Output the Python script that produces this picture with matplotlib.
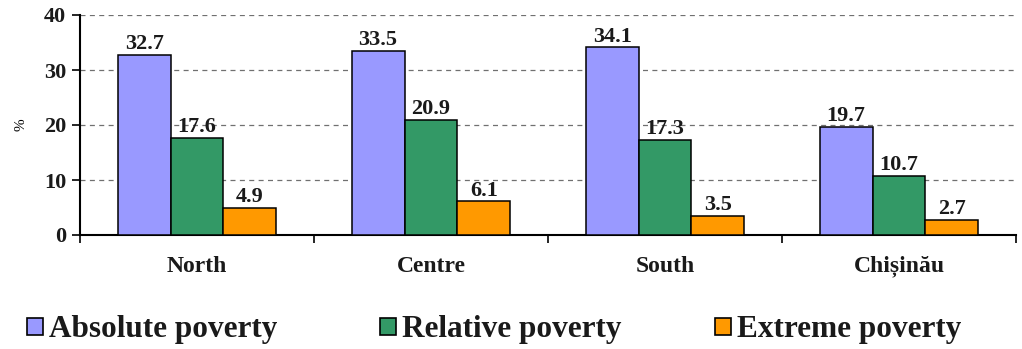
import matplotlib
matplotlib.use("Agg")
import matplotlib.pyplot as plt
import numpy as np
from matplotlib.patches import Patch

categories = ["North", "Centre", "South", "Chișinău"]
absolute = [32.7, 33.5, 34.1, 19.7]
relative = [17.6, 20.9, 17.3, 10.7]
extreme = [4.9, 6.1, 3.5, 2.7]
series_names = ["Absolute poverty", "Relative poverty", "Extreme poverty"]
colors = ["#9999FF", "#339966", "#FF9900"]

plt.rcParams['font.family'] = ['Liberation Serif', 'DejaVu Serif']
plt.rcParams['font.weight'] = 'bold'

W, H = 1022, 349
fig = plt.figure(figsize=(W / 100, H / 100), dpi=100)
ax = fig.add_axes([80 / W, 114 / H, 936 / W, 220 / H])

x = np.arange(len(categories))
w = 0.226
for i, (vals, c) in enumerate(zip([absolute, relative, extreme], colors)):
    bars = ax.bar(x + (i - 1) * w, vals, w, color=c, edgecolor='black', linewidth=1.1, zorder=3)
    for b, v in zip(bars, vals):
        ax.text(b.get_x() + b.get_width() / 2, v + 0.15, f"{v}", ha='center', va='bottom',
                fontsize=16, fontweight='bold', color='#1a1a1a', zorder=4)

ax.set_xlim(-0.5, len(categories) - 0.5)
ax.set_ylim(0, 40)
ax.set_yticks([0, 10, 20, 30, 40])
ax.set_yticklabels(["0", "10", "20", "30", "40"], fontsize=16, fontweight='bold', color='#1a1a1a')
ax.yaxis.grid(True, linestyle=(0, (4, 3.5)), color='#707070', linewidth=0.9, zorder=0)
ax.set_xticks(np.arange(len(categories) + 1) - 0.5)
ax.set_xticklabels([])
ax.set_xticks(x, minor=True)
ax.set_xticklabels(categories, minor=True, fontsize=17, fontweight='bold', color='#1a1a1a')
ax.tick_params(axis='x', which='minor', length=0, pad=15)
ax.tick_params(axis='x', which='major', length=6, width=1.2, direction='out')
ax.tick_params(axis='y', length=6, width=1.2, direction='out', pad=4)
for s in ['top', 'right']:
    ax.spines[s].set_visible(False)
for s in ['left', 'bottom']:
    ax.spines[s].set_linewidth(1.5)
ax.set_ylabel("%", fontsize=11, fontweight='normal', labelpad=12)

legend_x = [27, 380, 715]
for name, c, lx in zip(series_names, colors, legend_x):
    h = Patch(facecolor=c, edgecolor='black', linewidth=1.2)
    fig.legend([h], [name], loc='center left', bbox_to_anchor=(lx / W, 1 - 330 / H),
               frameon=False, prop={'size': 22.5, 'weight': 'bold'}, handlelength=0.5,
               handleheight=0.5, handletextpad=0.2, borderpad=0, borderaxespad=0,
               labelcolor='#1a1a1a')

fig.savefig("out.png", dpi=100)
